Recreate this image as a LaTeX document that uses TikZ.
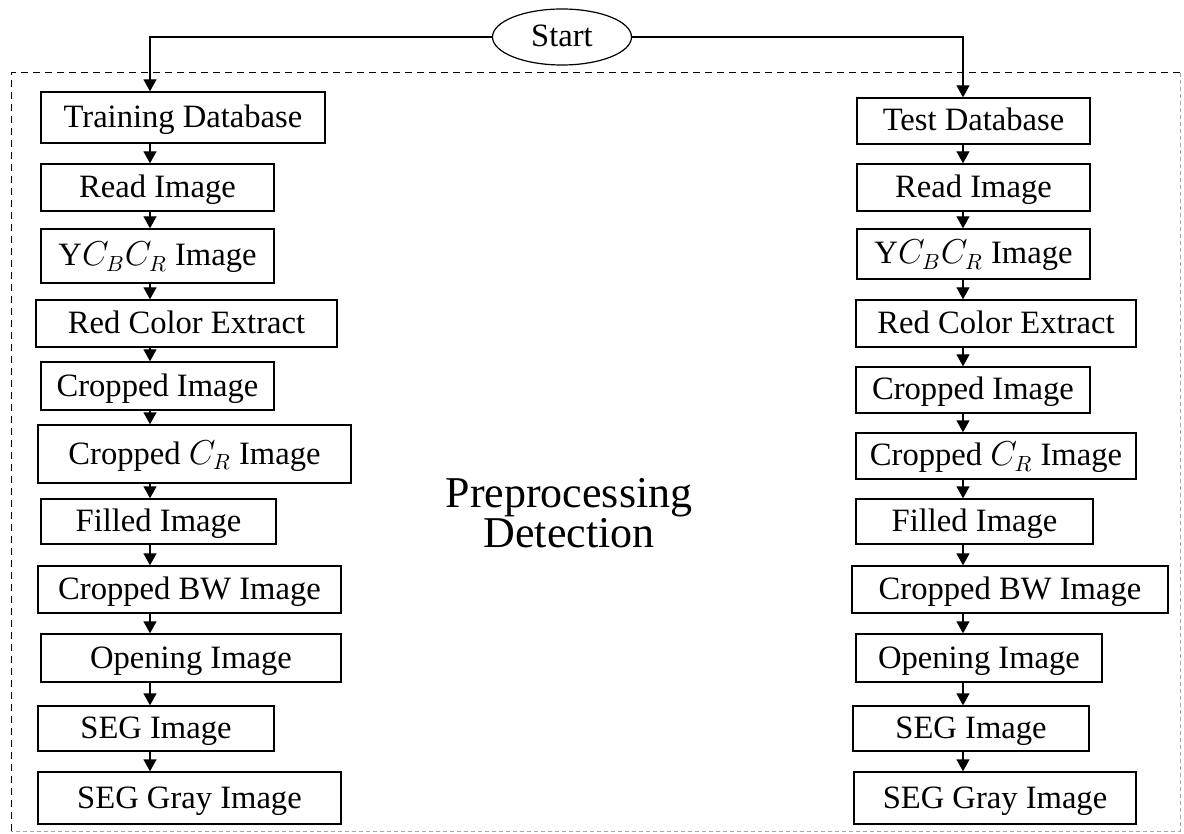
\documentclass[tikz,border=0pt]{standalone}
\usepackage{fontspec}
\setmainfont{Liberation Serif}
\usetikzlibrary{shapes.geometric,arrows.meta}
\begin{document}
\begin{tikzpicture}[x=0.5pt,y=-0.5pt,
  box/.style={draw, line width=0.7pt, inner sep=0pt, text height=10pt, text depth=0pt, font=\fontsize{16.3}{18}\selectfont},
  arr/.style={line width=0.7pt, -{Triangle[width=6.5pt,length=6pt]}}]
\useasboundingbox (0,0) rectangle (1184,834);
\draw[line width=0.5pt, dash pattern=on 3.5pt off 2.5pt] (11,831) -- (11,73) -- (1180,73);
\draw[line width=0.5pt, black!35, dash pattern=on 2pt off 1.5pt] (1180,73) -- (1180,831) -- (11,831);
\node[draw, ellipse, line width=0.6pt, minimum width=69.5pt, minimum height=28pt, inner sep=0pt, text height=10pt, text depth=0pt, font=\fontsize{16.3}{18}\selectfont] (start) at (562,37){Start};
\node[font=\fontsize{22}{19}\selectfont, align=center] (pre) at (569,513){Preprocessing\\Detection};
\coordinate (lx) at (150,0);
\coordinate (rx) at (963,0);
\node[box, minimum width=142pt, minimum height=25.5pt] (tr0) at (183,117.5){Training Database};
\node[box, minimum width=116.5pt, minimum height=23.5pt] (tr1) at (157.5,187.5){Read Image};
\node[box, minimum width=116.5pt, minimum height=27pt] (tr2) at (157.5,256){Y$C_BC_R$ Image};
\node[box, minimum width=150.5pt, minimum height=23.5pt] (tr3) at (186.5,323.5){Red Color Extract};
\node[box, minimum width=116.5pt, minimum height=24pt] (tr4) at (157.5,386){Cropped Image};
\node[box, minimum width=156.5pt, minimum height=29pt] (tr5) at (194.5,454){Cropped $C_R$ Image};
\node[box, minimum width=117.5pt, minimum height=22.5pt] (tr6) at (158.5,521.5){Filled Image};
\node[box, minimum width=151.5pt, minimum height=23.5pt] (tr7) at (189.5,589.5){Cropped BW Image};
\node[box, minimum width=150pt, minimum height=24pt] (tr8) at (191,658){Opening Image};
\node[box, minimum width=118pt, minimum height=22.5pt] (tr9) at (156,728.5){SEG Image};
\node[box, minimum width=151.5pt, minimum height=26pt] (tr10) at (189.5,798){SEG Gray Image};
\node[box, minimum width=116.5pt, minimum height=23pt] (te0) at (973.5,121){Test Database};
\node[box, minimum width=116.5pt, minimum height=23.5pt] (te1) at (973.5,187.5){Read Image};
\node[box, minimum width=116.5pt, minimum height=25pt] (te2) at (973.5,254){Y$C_BC_R$ Image};
\node[box, minimum width=140pt, minimum height=23.5pt] (te3) at (996,323.5){Red Color Extract};
\node[box, minimum width=117pt, minimum height=23pt] (te4) at (973,390){Cropped Image};
\node[box, minimum width=140pt, minimum height=23pt] (te5) at (996,456){Cropped $C_R$ Image};
\node[box, minimum width=118.5pt, minimum height=22.5pt] (te6) at (974.5,521.5){Filled Image};
\node[box, minimum width=158pt, minimum height=23.5pt] (te7) at (1010,589.5){Cropped BW Image};
\node[box, minimum width=123pt, minimum height=24pt] (te8) at (979,658){Opening Image};
\node[box, minimum width=118pt, minimum height=22.5pt] (te9) at (971,728.5){SEG Image};
\node[box, minimum width=141pt, minimum height=26pt] (te10) at (995,798){SEG Gray Image};
\draw[arr] (start.west) -| (lx |- tr0.north);
\draw[arr] (start.east) -| (rx |- te0.north);
\foreach \i [count=\j] in {0,...,9}{
  \draw[arr] (lx |- tr\i.south) -- (lx |- tr\j.north);
  \draw[arr] (rx |- te\i.south) -- (rx |- te\j.north);
}
\end{tikzpicture}
\end{document}
